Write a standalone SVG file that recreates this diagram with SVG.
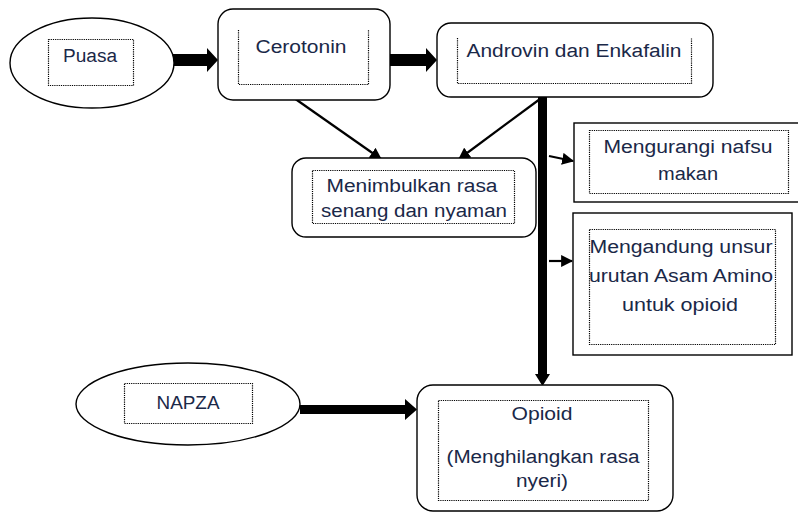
<svg xmlns="http://www.w3.org/2000/svg" width="798" height="514" viewBox="0 0 798 514">
<defs>
<style>
.box{fill:#fff;stroke:#000;stroke-width:1.4}
.dot{fill:none;stroke:#000;stroke-width:1.2;stroke-dasharray:1.2 1}
.t{font-family:"Liberation Sans",Arial,sans-serif;font-size:18px;fill:#1a2848;text-anchor:middle}
.thin{stroke:#000;stroke-width:2.2;fill:none}
.thick{fill:#000}
</style>
<marker id="ah" viewBox="0 0 10 10" refX="9" refY="5" markerWidth="5.5" markerHeight="5.5" orient="auto" markerUnits="strokeWidth">
<path d="M0,0 L10,5 L0,10 z" fill="#000"/>
</marker>
</defs>
<rect width="798" height="514" fill="#fff"/>
<g id="connectors">
<polygon class="thick" points="166,54 207,54 207,48 218,60 207,72 207,66 166,66"/>
<polygon class="thick" points="390,54 426,54 426,48 437,60 426,72 426,66 390,66"/>
<polygon class="thick" points="538,97 547,97 547,374 550,374 542.5,386 535,374 538,374"/>
<polygon class="thick" points="300,405 405,405 405,399 417,409.5 405,420 405,414 300,414"/>
<line class="thin" x1="294" y1="98" x2="381" y2="159" marker-end="url(#ah)"/>
<line class="thin" x1="540" y1="99" x2="459" y2="159" marker-end="url(#ah)"/>
<line class="thin" x1="549" y1="156" x2="573" y2="161" marker-end="url(#ah)"/>
<line class="thin" x1="549" y1="261" x2="572" y2="261" marker-end="url(#ah)"/>
</g>
<g id="puasa">
<ellipse class="box" cx="92" cy="63" rx="82" ry="45"/>
<rect class="dot" x="48.5" y="39.5" width="85" height="46"/>
<text class="t" x="90" y="62" textLength="54" lengthAdjust="spacingAndGlyphs">Puasa</text>
</g>
<g id="cerotonin">
<rect class="box" x="218" y="9" width="172" height="91" rx="15"/>
<path class="dot" d="M238.5,30 V84.5 H368.5 V30"/>
<text class="t" x="301" y="53" textLength="91" lengthAdjust="spacingAndGlyphs">Cerotonin</text>
</g>
<g id="androvin">
<rect class="box" x="437" y="23" width="276" height="74" rx="14"/>
<path class="dot" d="M457.5,38 V83.5 H691.5 V38"/>
<text class="t" x="574" y="57" textLength="215" lengthAdjust="spacingAndGlyphs">Androvin dan Enkafalin</text>
</g>
<g id="menimbulkan">
<rect class="box" x="292" y="158" width="244" height="79" rx="14"/>
<rect class="dot" x="312.5" y="170.5" width="202" height="53"/>
<text class="t" x="412" y="192" textLength="171" lengthAdjust="spacingAndGlyphs">Menimbulkan rasa</text>
<text class="t" x="414" y="217" textLength="186" lengthAdjust="spacingAndGlyphs">senang dan nyaman</text>
</g>
<g id="mengurangi">
<rect class="box" x="574" y="123" width="226" height="79"/>
<rect class="dot" x="589.5" y="130.5" width="199" height="63"/>
<text class="t" x="688" y="153" textLength="169" lengthAdjust="spacingAndGlyphs">Mengurangi nafsu</text>
<text class="t" x="688" y="180" textLength="60" lengthAdjust="spacingAndGlyphs">makan</text>
</g>
<g id="mengandung">
<rect class="box" x="573" y="213" width="219" height="142"/>
<rect class="dot" x="589.5" y="229.5" width="186" height="115"/>
<text class="t" x="681" y="253" textLength="183" lengthAdjust="spacingAndGlyphs">Mengandung unsur</text>
<text class="t" x="681" y="282" textLength="184" lengthAdjust="spacingAndGlyphs">urutan Asam Amino</text>
<text class="t" x="680" y="311" textLength="116" lengthAdjust="spacingAndGlyphs">untuk opioid</text>
</g>
<g id="napza">
<ellipse class="box" cx="188" cy="404" rx="112" ry="41"/>
<rect class="dot" x="124.5" y="383.5" width="128" height="40"/>
<text class="t" x="188" y="409" textLength="63" lengthAdjust="spacingAndGlyphs">NAPZA</text>
</g>
<g id="opioid">
<rect class="box" x="417" y="385" width="256" height="126" rx="16"/>
<rect class="dot" x="438.5" y="400.5" width="210" height="100"/>
<text class="t" x="542" y="420" textLength="61" lengthAdjust="spacingAndGlyphs">Opioid</text>
<text class="t" x="543" y="463" textLength="193" lengthAdjust="spacingAndGlyphs">(Menghilangkan rasa</text>
<text class="t" x="542" y="487" textLength="52" lengthAdjust="spacingAndGlyphs">nyeri)</text>
</g>
</svg>
